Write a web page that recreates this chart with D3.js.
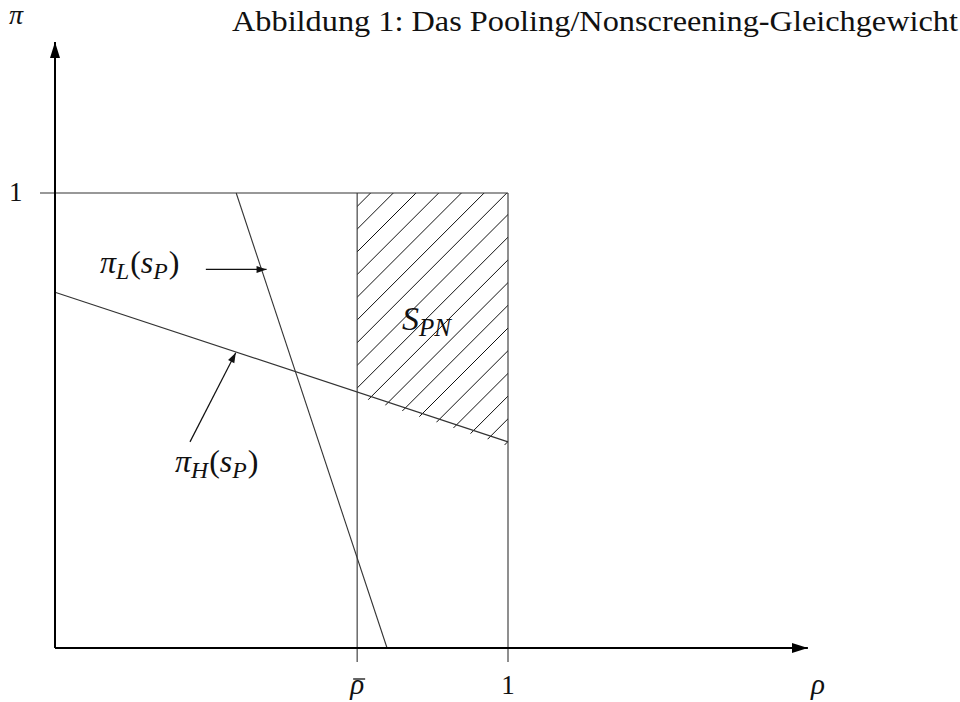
<!DOCTYPE html>
<html>
<head>
<meta charset="utf-8">
<script src="https://cdn.jsdelivr.net/npm/d3@7.9.0/dist/d3.min.js"></script>
<style>
  body { margin: 0; background: #fff; }
  svg { display: block; }
  text { font-family: "Liberation Serif", "DejaVu Serif", serif; fill: #111; }
  .math { font-style: italic; }
</style>
</head>
<body>
<svg id="chart" width="960" height="702"></svg>
<script>
// Schematic values (rho on x, pi on y)
const rhoBar = 0.667;
const rhoMax = 1.662;   // end of x axis arrow
const piMax = 1.332;    // end of y axis arrow
const piLow = -0.031;   // how far the guide lines drop below the axis
const lineL = [[0.40, 1], [0.733, 0]];        // pi_L(s_P)
const lineH = [[0, 0.782], [1, 0.453]];       // pi_H(s_P)
const arrowL = [[0.333, 0.832], [0.467, 0.832]];
const arrowH = [[0.298, 0.453], [0.399, 0.649]];
const xTicks = [rhoBar, 1];
const hatchStep = 22.7;

const svg = d3.select('#chart');
const x = d3.scaleLinear().domain([0, 1]).range([55, 508]);
const y = d3.scaleLinear().domain([0, 1]).range([648, 193]);

const line = d3.line().x(d => x(d[0])).y(d => y(d[1]));
const hAt = r => lineH[0][1] + (lineH[1][1] - lineH[0][1]) * r;

const defs = svg.append('defs');
defs.append('marker')
  .attr('id', 'head')
  .attr('viewBox', '0 0 10 10')
  .attr('refX', 10).attr('refY', 5)
  .attr('markerWidth', 11).attr('markerHeight', 10)
  .attr('markerUnits', 'userSpaceOnUse')
  .attr('orient', 'auto')
  .append('path').attr('d', 'M0,1.5 L10,5 L0,8.5 Z').attr('fill', '#111');
defs.append('marker')
  .attr('id', 'bighead')
  .attr('viewBox', '0 0 16 10')
  .attr('refX', 16).attr('refY', 5)
  .attr('markerWidth', 16).attr('markerHeight', 10)
  .attr('markerUnits', 'userSpaceOnUse')
  .attr('orient', 'auto')
  .append('path').attr('d', 'M0,0 L16,5 L0,10 Z').attr('fill', '#000');

// hatched region S_PN
const hPoly = [[rhoBar, 1], [1, 1], [1, hAt(1)], [rhoBar, hAt(rhoBar)]];
defs.append('clipPath').attr('id', 'hclip')
  .append('polygon')
  .attr('points', hPoly.map((d, i) => [x(d[0]), y(d[1]) + (i >= 2 ? 4 : 0)].join(',')).join(' '));

const hg = svg.append('g').attr('clip-path', 'url(#hclip)');
const c0 = 586.3;
for (let c = c0 - hatchStep * 20; c < c0 + hatchStep * 20; c += hatchStep) {
  hg.append('line')
    .attr('x1', x(rhoBar) - 10).attr('y1', c - (x(rhoBar) - 10))
    .attr('x2', x(1) + 10).attr('y2', c - (x(1) + 10))
    .attr('stroke', '#111').attr('stroke-width', 1);
}

// guide lines
function thin(sel) {
  return sel.attr('stroke', '#333').attr('stroke-width', 1.1).attr('fill', 'none');
}
thin(svg.append('line')).attr('x1', x(0) - 15).attr('x2', x(1)).attr('y1', y(1)).attr('y2', y(1));
xTicks.forEach(v => {
  thin(svg.append('line')).attr('x1', x(v)).attr('x2', x(v)).attr('y1', y(1)).attr('y2', y(piLow));
});
thin(svg.append('path')).attr('d', line(lineL));
thin(svg.append('path')).attr('d', line(lineH));

// axes
svg.append('line').attr('x1', x(0)).attr('y1', y(0)).attr('x2', x(rhoMax)).attr('y2', y(0))
  .attr('stroke', '#000').attr('stroke-width', 2).attr('marker-end', 'url(#bighead)');
svg.append('line').attr('x1', x(0)).attr('y1', y(0)).attr('x2', x(0)).attr('y2', y(piMax))
  .attr('stroke', '#000').attr('stroke-width', 2).attr('marker-end', 'url(#bighead)');

// annotation arrows
[arrowL, arrowH].forEach(a => {
  svg.append('path').attr('d', line(a)).attr('stroke', '#111').attr('stroke-width', 1.2)
    .attr('fill', 'none').attr('marker-end', 'url(#head)');
});

// texts
svg.append('text').attr('x', 958).attr('y', 31).attr('text-anchor', 'end')
  .attr('font-size', 29).attr('textLength', 726).attr('lengthAdjust', 'spacingAndGlyphs')
  .text('Abbildung 1: Das Pooling/Nonscreening-Gleichgewicht');

svg.append('text').attr('class', 'math').attr('x', 9).attr('y', 24).attr('font-size', 28).text('π');
svg.append('text').attr('x', 9).attr('y', y(1) + 8).attr('font-size', 27).text('1');
svg.append('text').attr('x', x(1)).attr('y', 694).attr('text-anchor', 'middle').attr('font-size', 27).text('1');
svg.append('text').attr('class', 'math').attr('x', x(rhoBar)).attr('y', 694).attr('text-anchor', 'middle')
  .attr('font-size', 29).text('ρ');
svg.append('line').attr('x1', x(rhoBar) - 4).attr('x2', x(rhoBar) + 8).attr('y1', 679).attr('y2', 679)
  .attr('stroke', '#111').attr('stroke-width', 1.3);
svg.append('text').attr('class', 'math').attr('x', 818).attr('y', 694).attr('text-anchor', 'middle')
  .attr('font-size', 29).text('ρ');

function mathLabel(px, py, main, sub, arg, argSub, size) {
  const t = svg.append('text').attr('x', px).attr('y', py).attr('font-size', size);
  t.append('tspan').attr('class', 'math').text(main);
  t.append('tspan').attr('class', 'math').attr('font-size', size * 0.74).attr('dy', 6).text(sub);
  t.append('tspan').attr('dy', -6).attr('dx', 1).text('(');
  t.append('tspan').attr('class', 'math').text(arg);
  t.append('tspan').attr('class', 'math').attr('font-size', size * 0.74).attr('dy', 6).text(argSub);
  t.append('tspan').attr('dy', -6).attr('dx', 1).text(')');
  return t;
}
mathLabel(100, 273, 'π', 'L', 's', 'P', 32);
mathLabel(175, 472, 'π', 'H', 's', 'P', 32);

const s = svg.append('text').attr('x', 402).attr('y', 330).attr('font-size', 34);
s.append('tspan').attr('class', 'math').text('S');
s.append('tspan').attr('class', 'math').attr('font-size', 25).attr('dy', 6).text('PN');
</script>
</body>
</html>
